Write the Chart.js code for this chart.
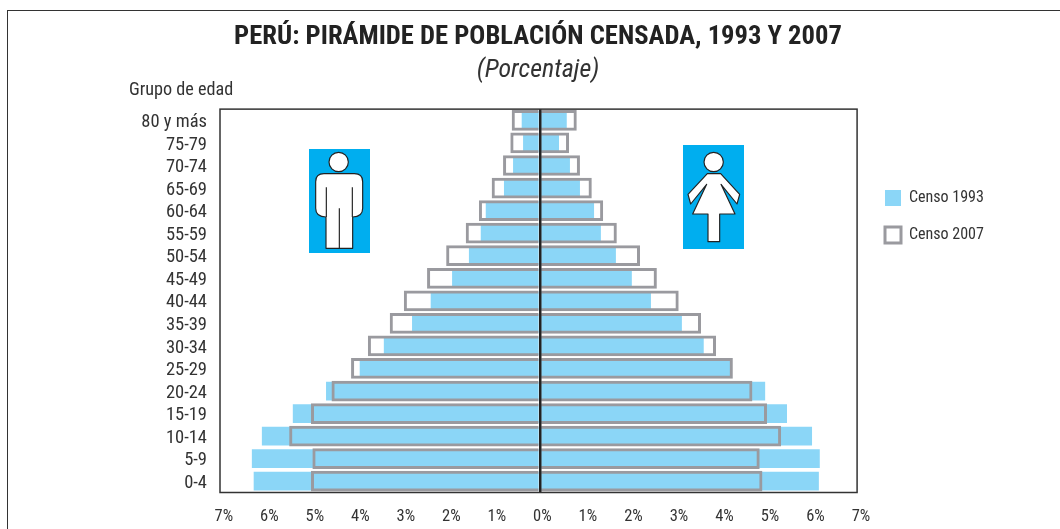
<!DOCTYPE html>
<html><head><meta charset="utf-8">
<script src="https://cdn.jsdelivr.net/npm/chart.js@4"></script>
<style>
html,body{margin:0;padding:0;background:#fff;width:1060px;height:529px;overflow:hidden}
#wrap{position:relative;width:1060px;height:529px}
canvas{position:absolute;left:0;top:0}
#frame{position:absolute;left:7px;top:10px;width:1060px;height:530px;border:1.5px solid #333;box-sizing:border-box}
#yt{position:absolute;left:129px;top:78px;font:18.2px "Roboto Condensed",sans-serif;color:#333;white-space:nowrap}
svg{position:absolute}
</style></head><body>
<div id="wrap">
<div id="frame"></div>
<canvas id="c" width="1060" height="529"></canvas>
<div id="yt">Grupo de edad</div>
<svg style="left:309px;top:149px" width="61" height="104" viewBox="27 147 183 312">
<rect x="27" y="147" width="183" height="312" fill="#00AEEF"/>
<g fill="#fff" stroke="#222" stroke-width="3.5" stroke-linejoin="round">
<circle cx="116" cy="186" r="29"/>
<path d="M72 221H163Q188 221 188 245V325Q188 351 158 351V445H78V351Q47 351 47 325V245Q47 221 72 221Z"/>
<path d="M79 262V351M157 262V351M118 325V445" fill="none"/>
</g></svg>
<svg style="left:683px;top:145px" width="61" height="104" viewBox="1149 135 183 312">
<rect x="1149" y="135" width="183" height="312" fill="#00AEEF"/>
<g fill="#fff" stroke="#222" stroke-width="3.5" stroke-linejoin="round">
<circle cx="1241" cy="186" r="29"/>
<path d="M1222 221H1262L1319 283L1311 312L1263 253L1305 342H1259V425H1224V342H1178L1220 253L1172 312L1164 283Z"/>
</g></svg>
</div>
<script>
const ageGroups = ['80 y más','75-79','70-74','65-69','60-64','55-59','50-54','45-49','40-44','35-39','30-34','25-29','20-24','15-19','10-14','5-9','0-4'];
const men1993   = [-0.40,-0.37,-0.59,-0.79,-1.19,-1.30,-1.56,-1.93,-2.40,-2.81,-3.43,-3.96,-4.70,-5.43,-6.11,-6.33,-6.29];
const women1993 = [0.59,0.42,0.66,0.88,1.19,1.34,1.67,2.02,2.44,3.12,3.60,4.20,4.95,5.43,5.98,6.15,6.13];
const men2007   = [-0.62,-0.65,-0.81,-1.06,-1.34,-1.63,-2.06,-2.48,-2.99,-3.30,-3.78,-4.15,-4.58,-5.03,-5.51,-5.00,-5.03];
const women2007 = [0.81,0.64,0.88,1.14,1.39,1.69,2.20,2.57,3.05,3.54,3.87,4.24,4.67,4.99,5.30,4.83,4.89];
const xTickValues = [-7,-6,-5,-4,-3,-2,-1,0,1,2,3,4,5,6,7];
const FONT = '"Roboto Condensed", sans-serif';
const BLUE = '#8BD6F7', GREY = '#9A9A9F', INK = '#333';

const s1993 = d => ({label:'Censo 1993',data:d,backgroundColor:BLUE,borderWidth:0,borderColor:BLUE,barPercentage:0.83,categoryPercentage:1,order:2});
const s2007 = d => ({label:'Censo 2007',data:d,backgroundColor:'rgba(255,255,255,0)',borderColor:GREY,borderWidth:3,borderSkipped:'start',barPercentage:0.92,categoryPercentage:1,order:1});

const decor = {
  id:'decor',
  afterLayout(chart){
    const l = chart.legend, dx = 885 - 21 - l.left, dy = 169 - l.top;
    l.left += dx; l.right += dx; l.top += dy; l.bottom += dy;
    chart.boxes.filter(b=>b.position==='top').forEach(b=>{const d=538-(b.left+b.right)/2;b.left+=d;b.right+=d;});
  },
  afterDraw(chart){
    const a = chart.chartArea, c = chart.ctx;
    c.save(); c.strokeStyle = INK; c.lineWidth = 1.5;
    c.strokeRect(a.left, a.top, a.right - a.left, a.bottom - a.top);
    c.restore();
  }
};

new Chart(document.getElementById('c'),{
  type:'bar',
  plugins:[decor],
  data:{labels:ageGroups,datasets:[s1993(men1993),s2007(men2007),s1993(women1993),s2007(women2007)]},
  options:{
    indexAxis:'y',responsive:false,animation:false,
    layout:{padding:{left:0,top:0,right:73,bottom:0}},
    plugins:{
      tooltip:{enabled:false},
      title:{display:true,text:'PERÚ: PIRÁMIDE DE POBLACIÓN CENSADA, 1993 Y 2007',color:'#222',
        font:{family:FONT,size:26.6,weight:'bold'},padding:{top:21,bottom:2}},
      subtitle:{display:true,text:'(Porcentaje)',color:INK,
        font:{family:FONT,size:26,style:'italic',weight:'normal'},padding:{top:0,bottom:23}},
      legend:{display:true,position:'right',align:'start',
        labels:{filter:i=>i.datasetIndex<2,sort:(a,b)=>a.datasetIndex-b.datasetIndex,boxWidth:16,boxHeight:16,padding:21,color:INK,font:{family:FONT,size:16}}}
    },
    scales:{
      x:{type:'linear',min:-7.03,max:6.97,
        afterBuildTicks(s){s.ticks=xTickValues.map(v=>({value:v}));},
        afterFit(s){s.height=36.5;},
        border:{display:false},
        grid:{z:1,drawTicks:false,lineWidth:2.5,color:c=>c.tick&&c.tick.value===0?'#222':'rgba(0,0,0,0)'},
        ticks:{autoSkip:false,maxRotation:0,minRotation:0,labelOffset:2.5,padding:14,color:INK,
          font:{family:FONT,size:16.5},callback:v=>Math.abs(v)+'%'}},
      y:{stacked:false,
        afterFit(s){s.width=220;},
        border:{display:false},grid:{display:false},
        ticks:{autoSkip:false,padding:5,labelOffset:2,color:INK,font:{family:FONT,size:18.5}}}
    },
    datasets:{bar:{grouped:false}}
  }
});
</script>
</body></html>
